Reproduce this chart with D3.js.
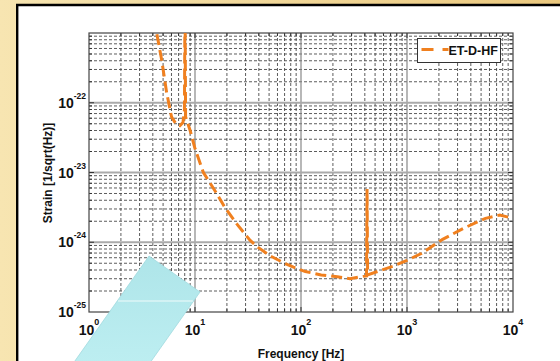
<!DOCTYPE html>
<html>
<head>
<meta charset="utf-8">
<script src="https://cdn.jsdelivr.net/npm/d3@7"></script>
<style>
  body { margin: 0; background: #fff; }
  svg { display: block; }
  text { font-family: "Liberation Sans", Arial, sans-serif; font-weight: bold; fill: #111; }
</style>
</head>
<body>
<div id="chart"></div>
<script>
// Data
const freq = [4.0, 4.35, 4.85, 5.4, 6.0, 6.6, 7.2, 7.7, 7.95, 8.05, 8.15, 9.0, 10, 12, 16, 19, 25, 33, 40, 52, 70, 85, 110, 155, 220, 290, 360, 415, 420, 425, 550, 733, 1000, 1365, 2170, 3460, 5500, 7500, 10000];
const strain = [1.6e-21, 1.0e-21, 4.1e-22, 1.4e-22, 6.3e-23, 5.0e-23, 4.7e-23, 5.2e-23, 7.9e-23, 3.2e-21, 6.3e-23, 4.0e-23, 2.2e-23, 1.0e-23, 5.0e-24, 3.2e-24, 1.8e-24, 1.07e-24, 8.3e-25, 6.3e-25, 5.0e-25, 4.4e-25, 3.8e-25, 3.4e-25, 3.2e-25, 3.0e-25, 3.2e-25, 3.3e-25, 5.8e-24, 3.4e-25, 3.9e-25, 4.5e-25, 5.5e-25, 6.9e-25, 1.1e-24, 1.6e-24, 2.2e-24, 2.45e-24, 2.2e-24];
const seriesName = "ET-D-HF";
const xTickExps = [0, 1, 2, 3, 4];
const yTickExps = [-22, -23, -24, -25];
const xLabel = "Frequency [Hz]";
const yLabel = "Strain [1/sqrt(Hz)]";

const data = freq.map((f, i) => ({ f: f, h: strain[i] }));

const width = 560;
const height = 361;
const margin = { top: 33, right: 47, bottom: 49, left: 89 };
const pw = width - margin.left - margin.right;
const ph = height - margin.top - margin.bottom;
const orange = "#f0801f";

const svg = d3.select("#chart")
    .append("svg")
    .attr("width", width)
    .attr("height", height);

// slide background
const defs = svg.append("defs");
const bg = defs.append("linearGradient").attr("id", "bg").attr("x1", 0).attr("x2", 1).attr("y1", 0).attr("y2", 0);
bg.append("stop").attr("offset", 0).attr("stop-color", "#f7e5b1");
bg.append("stop").attr("offset", 1).attr("stop-color", "#ebc97f");
svg.append("rect").attr("width", width).attr("height", height).attr("fill", "url(#bg)");
svg.append("rect").attr("x", 18).attr("y", 6).attr("width", width - 18).attr("height", height - 6).attr("fill", "#fff");
svg.append("path").attr("d", `M17.2,${height} V5 H${width}`).attr("fill", "none").attr("stroke", "#000").attr("stroke-width", 2.4);

const g = svg.append("g").attr("transform", `translate(${margin.left},${margin.top})`);

// Scales
const x = d3.scaleLog().domain([1, 1e4]).range([0, pw]);
const y = d3.scaleLog().domain([1e-25, 1e-21]).range([ph, 0]);

const minorX = [], minorY = [];
for (let k = 0; k < 4; k++) for (let d = 2; d <= 9; d++) {
    minorX.push(d * Math.pow(10, k));
    minorY.push(d * Math.pow(10, -25 + k));
}
const majorX = [10, 100, 1000];
const majorY = [1e-24, 1e-23, 1e-22];

// grid
g.append("g").selectAll("line").data(minorX).join("line")
    .attr("x1", d => x(d)).attr("x2", d => x(d)).attr("y1", 0).attr("y2", ph)
    .attr("stroke", "#4a4a4a").attr("stroke-width", 0.9).attr("stroke-dasharray", "3,2");
g.append("g").selectAll("line").data(minorY).join("line")
    .attr("x1", 0).attr("x2", pw).attr("y1", d => y(d)).attr("y2", d => y(d))
    .attr("stroke", "#4a4a4a").attr("stroke-width", 0.9).attr("stroke-dasharray", "3,2");
g.append("g").selectAll("line").data(majorX).join("line")
    .attr("x1", d => x(d)).attr("x2", d => x(d)).attr("y1", 0).attr("y2", ph)
    .attr("stroke", "#888").attr("stroke-width", 1.2);
g.append("g").selectAll("line").data(majorY).join("line")
    .attr("x1", 0).attr("x2", pw).attr("y1", d => y(d)).attr("y2", d => y(d))
    .attr("stroke", "#aaa").attr("stroke-width", 2);

// inner ticks on all four sides
const tickX = minorX.map(d => ({ v: d, len: 3 })).concat(majorX.map(d => ({ v: d, len: 5 })));
const tickY = minorY.map(d => ({ v: d, len: 3 })).concat(majorY.map(d => ({ v: d, len: 5 })));
const ticks = g.append("g").attr("stroke", "#333").attr("stroke-width", 1);
ticks.selectAll(".tb").data(tickX).join("line").attr("class", "tb")
    .attr("x1", d => x(d.v)).attr("x2", d => x(d.v)).attr("y1", ph).attr("y2", d => ph - d.len);
ticks.selectAll(".tt").data(tickX).join("line").attr("class", "tt")
    .attr("x1", d => x(d.v)).attr("x2", d => x(d.v)).attr("y1", 0).attr("y2", d => d.len);
ticks.selectAll(".tl").data(tickY).join("line").attr("class", "tl")
    .attr("y1", d => y(d.v)).attr("y2", d => y(d.v)).attr("x1", 0).attr("x2", d => d.len);
ticks.selectAll(".tr").data(tickY).join("line").attr("class", "tr")
    .attr("y1", d => y(d.v)).attr("y2", d => y(d.v)).attr("x1", pw).attr("x2", d => pw - d.len);

g.append("rect").attr("width", pw).attr("height", ph)
    .attr("fill", "none").attr("stroke", "#444").attr("stroke-width", 1.2);

// curve
g.append("clipPath").attr("id", "plotclip").append("rect").attr("width", pw).attr("height", ph);
const line = d3.line().x(d => x(d.f)).y(d => y(d.h));
g.append("path")
    .datum(data)
    .attr("clip-path", "url(#plotclip)")
    .attr("fill", "none")
    .attr("stroke", orange)
    .attr("stroke-width", 3)
    .attr("stroke-dasharray", "11,5")
    .attr("d", line);

// tick labels
g.append("g").selectAll("text").data(xTickExps).join("text")
    .attr("x", d => x(Math.pow(10, d)))
    .attr("y", ph + 23)
    .attr("text-anchor", "middle")
    .style("font-size", "14px")
    .each(function (d) {
        const t = d3.select(this);
        t.append("tspan").text("10");
        t.append("tspan").attr("dy", -10).style("font-size", "9px").text(d);
    });
g.append("g").selectAll("text").data(yTickExps).join("text")
    .attr("x", -3)
    .attr("y", d => y(Math.pow(10, d)) + 5)
    .attr("text-anchor", "end")
    .style("font-size", "14px")
    .each(function (d) {
        const t = d3.select(this);
        t.append("tspan").text("10");
        t.append("tspan").attr("dy", -9).style("font-size", "8.5px").text(d);
    });

// axis titles
svg.append("text").attr("x", margin.left + pw / 2).attr("y", 358)
    .attr("text-anchor", "middle").style("font-size", "12px").text(xLabel);
svg.append("text").attr("transform", `translate(52,173) rotate(-90)`)
    .attr("text-anchor", "middle").style("font-size", "12px").text(yLabel);

// legend
const lg = svg.append("g").attr("transform", "translate(417.5,38.5)");
lg.append("rect").attr("width", 83).attr("height", 24).attr("fill", "#fff").attr("stroke", "#333").attr("stroke-width", 1);
lg.append("line").attr("x1", 4).attr("x2", 31).attr("y1", 11).attr("y2", 11)
    .attr("stroke", orange).attr("stroke-width", 3).attr("stroke-dasharray", "12,9");
lg.append("text").attr("x", 31).attr("y", 16.5).style("font-size", "12.5px").text(seriesName);

// cyan sticker in the lower left
const cy = defs.append("linearGradient").attr("id", "cy").attr("x1", 0).attr("x2", 0).attr("y1", 0).attr("y2", 1);
cy.append("stop").attr("offset", 0).attr("stop-color", "#aee5e9");
cy.append("stop").attr("offset", 1).attr("stop-color", "#c8f5f7");
const sticker = [[149, 256], [200, 292], [92, 445], [41, 409]];
svg.append("polygon").attr("points", sticker.map(p => p.join(",")).join(" "))
    .attr("fill", "url(#cy)").attr("stroke", "#9fd9de").attr("stroke-width", 0.8);
svg.append("line").attr("x1", 118).attr("x2", 193).attr("y1", 301).attr("y2", 301)
    .attr("stroke", "#fff").attr("stroke-opacity", 0.8).attr("stroke-width", 1);
</script>
</body>
</html>
